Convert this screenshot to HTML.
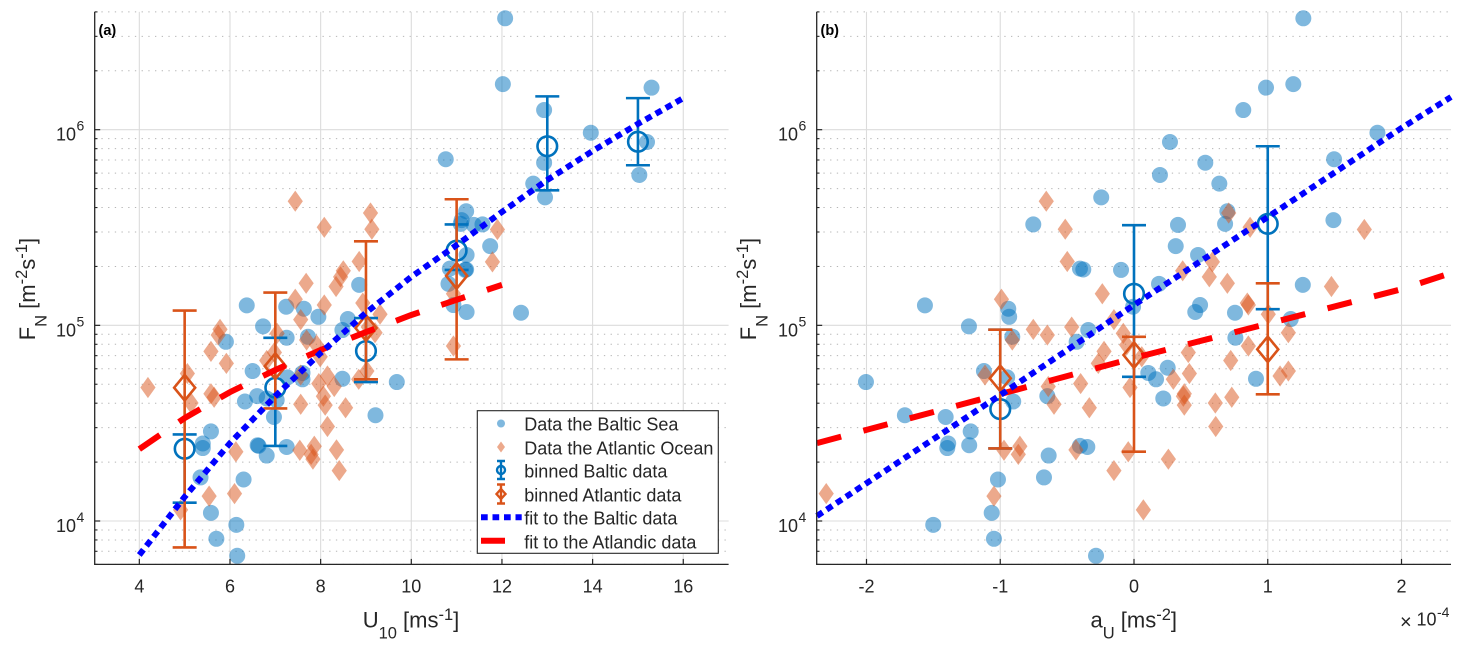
<!DOCTYPE html>
<html lang="en">
<head>
<meta charset="utf-8">
<title>Flux charts</title>
<style>
  html,body{margin:0;padding:0;background:#fff;width:1465px;height:653px;overflow:hidden}
  svg{display:block;font-family:"Liberation Sans",Arial,sans-serif}
  text{fill:#262626}
</style>
</head>
<body>
<svg id="figure" xmlns="http://www.w3.org/2000/svg" width="1465" height="653" viewBox="0 0 1465 653">
  <g id="panel-a"></g>
  <g id="panel-b"></g>

  <text x="98.5" y="35" font-size="14.5" font-weight="bold" style="fill:#000">(a)</text>
  <text x="820.5" y="35" font-size="14.5" font-weight="bold" style="fill:#000">(b)</text>

  <text x="362.7" y="627.3" font-size="22">U<tspan font-size="16.5" dy="11">10</tspan><tspan dy="-11"> [ms</tspan><tspan font-size="16.5" dy="-7.5">-1</tspan><tspan dy="7.5">]</tspan></text>
  <text x="1090.5" y="627.3" font-size="22">a<tspan font-size="16.5" dy="11">U</tspan><tspan dy="-11"> [ms</tspan><tspan font-size="16.5" dy="-7.5">-2</tspan><tspan dy="7.5">]</tspan></text>
  <text transform="translate(35,340.3) rotate(-90)" font-size="22">F<tspan font-size="16.5" dy="11.5">N</tspan><tspan dy="-11.5"> [m</tspan><tspan font-size="16.5" dy="-8">-2</tspan><tspan dy="8">s</tspan><tspan font-size="16.5" dy="-8">-1</tspan><tspan dy="8">]</tspan></text>
  <text transform="translate(756,340.3) rotate(-90)" font-size="22">F<tspan font-size="16.5" dy="11.5">N</tspan><tspan dy="-11.5"> [m</tspan><tspan font-size="16.5" dy="-8">-2</tspan><tspan dy="8">s</tspan><tspan font-size="16.5" dy="-8">-1</tspan><tspan dy="8">]</tspan></text>

  <g>
    <text x="1400" y="628.5" font-size="20">×</text>
    <text x="1416.5" y="625.5" font-size="18">10</text>
    <text x="1437" y="617" font-size="14">-4</text>
  </g>

  <g>
    <rect x="477.3" y="410.7" width="241" height="142.6" fill="#fff" stroke="#262626" stroke-width="1.1"/>
    <g>
      <circle cx="501" cy="423.5" r="4" fill="#0072BD" fill-opacity="0.5"/>
      <text x="524.3" y="430.7" font-size="18">Data the Baltic Sea</text>
    </g>
    <g>
      <polygon points="497,447 501,441.5 505,447 501,452.5" fill="#D95319" fill-opacity="0.5"/>
      <text x="524.3" y="454.7" font-size="18">Data the Atlantic Ocean</text>
    </g>
    <g stroke="#0072BD" stroke-width="2.4" fill="none">
      <path d="M501 461V479M497 461H505M497 479H505"/>
      <circle cx="501" cy="470" r="4"/>
      <text x="524.3" y="477.7" font-size="18" stroke="none" style="fill:#262626">binned Baltic data</text>
    </g>
    <g stroke="#D95319" stroke-width="2.4" fill="none">
      <path d="M501 484.5V503.5M497 484.5H505M497 503.5H505"/>
      <polygon points="496.5,494 501,489 505.5,494 501,499"/>
      <text x="524.3" y="501.3" font-size="18" stroke="none" style="fill:#262626">binned Atlantic data</text>
    </g>
    <g>
      <line x1="481" y1="517.3" x2="521.7" y2="517.3" stroke="#0000FF" stroke-width="6" stroke-dasharray="6.7 4.8"/>
      <text x="524.3" y="524.7" font-size="18">fit to the Baltic data</text>
    </g>
    <g>
      <line x1="481" y1="540.7" x2="505" y2="540.7" stroke="#FF0000" stroke-width="6"/>
      <text x="524.3" y="548.7" font-size="18">fit to the Atlandic data</text>
    </g>
  </g>
</svg>

<script>
// ---- Individual samples (null = not identifiable in that panel) ----
const balticF = [3.71e6,1.71e6,1.64e6,1.26e6,9.65e5,8.65e5,7.06e5,6.78e5,5.87e5,5.30e5,4.51e5,3.83e5,3.45e5,3.30e5,3.26e5,3.28e5,2.54e5,2.29e5,1.95e5,1.93e5,1.92e5,1.63e5,1.61e5,1.27e5,1.265e5,1.245e5,1.216e5,1.17e5,1.16e5,1.106e5,1.077e5,9.88e4,9.46e4,8.64e4,8.74e4,8.24e4,5.84e4,5.71e4,5.30e4,5.42e4,5.33e4,5.13e4,6.07e4,4.08e4,4.35e4,4.23e4,4.15e4,3.40e4,3.47e4,2.87e4,2.49e4,2.36e4,2.44e4,2.42e4,2.39e4,2.16e4,1.63e4,1.67e4,1.10e4,9.56e3,8.11e3,6.64e3];
const balticU = [12.07,12.02,15.30,12.93,13.96,15.20,10.76,12.93,15.03,12.69,12.95,11.21,11.11,11.09,11.38,11.57,11.74,11.22,10.85,11.21,11.19,10.82,8.85,10.93,6.37,7.24,7.63,11.22,12.42,7.95,8.60,6.73,8.48,7.25,7.72,5.91,6.50,7.60,7.60,7.27,8.48,9.68,null,6.33,6.60,6.81,7.03,6.97,9.21,5.58,5.40,5.40,6.61,6.63,7.25,6.81,6.30,5.35,5.58,6.14,5.70,6.16];
const balticA = [1.266,1.191,0.987,0.817,1.82,0.269,1.496,0.533,0.194,0.638,-0.245,0.698,1.491,0.681,0.329,-0.753,0.312,0.479,-0.404,-0.379,-0.097,0.187,1.262,0.494,-1.563,-0.007,-0.94,0.458,0.755,-0.933,1.172,-1.234,-0.342,0.758,-0.91,-0.429,-1.122,0.107,0.165,-0.948,0.912,-2.004,0.252,-0.903,-0.648,0.219,null,-1.408,-1.713,-1.221,-1.389,-1.396,-1.232,-0.404,-0.349,-0.638,-1.017,-0.673,-1.064,-1.501,-1.047,-0.284];

const atlanticF = [4.31e5,3.75e5,3.17e5,3.10e5,3.09e5,2.12e5,2.11e5,1.90e5,1.77e5,1.64e5,1.58e5,1.45e5,1.36e5,1.27e5,1.30e5,1.14e5,1.07e5,9.54e4,8.92e4,9.10e4,8.41e4,7.93e4,7.84e4,9.17e4,7.36e4,7.26e4,6.61e4,6.39e4,6.91e4,5.84e4,5.67e4,5.57e4,5.51e4,5.30e4,4.81e4,5.04e4,4.87e4,4.47e4,4.29e4,4.34e4,4.01e4,3.91e4,3.95e4,3.79e4,3.04e4,2.26e4,2.30e4,2.41e4,2.19e4,2.07e4,2.31e4,1.81e4,1.34e4,1.38e4,1.14e4,9.80e4];
const atlanticU = [7.44,9.10,8.08,9.13,11.90,8.85,11.79,8.50,8.44,7.68,8.34,10.93,7.44,8.08,8.93,9.31,7.56,5.78,5.74,7.04,7.69,7.91,10.93,9.20,5.58,6.98,6.81,5.92,7.99,9.02,5.06,7.56,8.15,8.84,4.19,7.96,8.30,5.58,5.65,8.06,5.14,8.10,7.56,8.55,8.15,6.13,7.54,7.86,7.79,7.83,8.35,8.41,5.54,6.10,4.91,9.05];
const atlanticA = [-0.656,0.708,0.868,-0.514,1.722,-0.499,0.586,0.364,0.563,0.698,1.476,-0.237,-0.991,0.855,0.847,1.004,-0.15,-0.753,-0.648,-0.08,-0.91,-0.055,0.855,1.154,-0.224,0.406,0.723,-0.267,0.058,1.154,0.414,-1.114,1.092,0.294,-0.03,-0.399,-0.641,0.376,0.731,0.369,0.608,0.376,-0.598,-0.334,0.611,-0.043,-0.972,-0.853,-0.865,0.257,-0.434,-0.15,-1.047,-2.301,0.07,-0.466];

// ---- Binned statistics ----
const binsU = [5,7,9,11,13,15];
const binBalticUMean = [2.34e4,4.80e4,7.39e4,2.41e5,8.23e5,8.68e5];
const binBalticUHigh = [2.77e4,8.64e4,1.09e5,3.28e5,1.48e6,1.45e6];
const binBalticULow  = [1.24e4,2.42e4,5.13e4,1.92e5,4.90e5,6.58e5];
const binsUAtlantic = [5,7,9,11];
const binAtlanticUMean = [4.80e4,6.19e4,9.69e4,1.79e5];
const binAtlanticUHigh = [1.19e5,1.47e5,2.69e5,4.41e5];
const binAtlanticULow  = [7.33e3,3.76e4,5.30e4,6.70e4];

const binsA = [-1,0,1];
const binBalticAMean = [3.73e4,1.45e5,3.30e5];
const binBalticAHigh = [9.50e4,3.25e5,8.23e5];
const binBalticALow  = [2.35e4,5.46e4,1.21e5];
const binAtlanticAMean = [5.36e4,7.05e4,7.54e4];
const binAtlanticAHigh = [9.50e4,8.74e4,1.64e5];
const binAtlanticALow  = [2.35e4,2.26e4,4.44e4];

// ---- Fitted curves ----
const fitBalticUX = [4,5,6,7,8,9,10,11,12,13,14,15,16];
const fitBalticUY = [6.70e3,1.33e4,2.50e4,4.35e4,7.22e4,1.16e5,1.77e5,2.57e5,3.80e5,5.53e5,7.78e5,1.07e6,1.45e6];
const fitAtlanticUX = [4,5,6,7,8,9,10,11,12];
const fitAtlanticUY = [2.33e4,3.36e4,4.56e4,5.91e4,7.48e4,9.24e4,1.13e5,1.35e5,1.61e5];
const fitAX = [-2.37,-2,-1,0,1,2,2.37];
const fitBalticAY = [1.06e4,1.56e4,4.40e4,1.27e5,3.58e5,1.02e6,1.47e6];
const fitAtlanticAY = [2.50e4,2.92e4,4.45e4,6.81e4,1.02e5,1.53e5,1.85e5];

// ---- Ticks ----
const xTickLabelsA = ['4','6','8','10','12','14','16'];
const xTickLabelsB = ['-2','-1','0','1','2'];
const yDecades = [4,5,6];
const yMinorFactors = [2,3,4,5,6,7,8,9];

// ---- Axis geometry ----
const plotTop = 11.9, plotBottom = 564.4;
const yMinValue = 6e3, yMaxValue = 4e6;
function yScale(f){
  const lo = Math.log10(yMinValue), hi = Math.log10(yMaxValue);
  return plotBottom - (Math.log10(f) - lo) / (hi - lo) * (plotBottom - plotTop);
}
function xScaleA(u){ return 94 + (u - 3) / 14 * (728.6 - 94); }
function xScaleB(a){ return 817 + (a + 2.37) / 4.74 * (1451 - 817); }

const NS = 'http://www.w3.org/2000/svg';
function mk(parent, tag, attrs){
  const el = document.createElementNS(NS, tag);
  for (const k in attrs) el.setAttribute(k, attrs[k]);
  parent.appendChild(el);
  return el;
}

function drawGrid(g, left, right, xFn, xLabels){
  const minorGroup = mk(g, 'g', {});
  
  
  const majorGroup = mk(g, 'g', {});
  
  
  for (let d = 3; d <= 6; d++){
    for (const m of yMinorFactors){
      const v = m * Math.pow(10, d);
      if (v < yMinValue || v > yMaxValue) continue;
      const y = yScale(v);
      const ln = mk(minorGroup, 'line', {x1:left, x2:right, y1:y, y2:y, stroke:'#b5b5b5', 'stroke-width':1, 'stroke-dasharray':'1.3 5.4'});
      
      
      const tk = mk(g, 'line', {x1:left, x2:left + 2.8, y1:y, y2:y, stroke:'#262626', 'stroke-width':1.1});
      
      
    }
  }
  for (const d of yDecades){
    const y = yScale(Math.pow(10, d));
    const ln = mk(majorGroup, 'line', {x1:left, x2:right, y1:y, y2:y, stroke:'#dcdcdc', 'stroke-width':1.1});
    
    
  }
  for (const lab of xLabels){
    const x = xFn(parseFloat(lab));
    const ln = mk(majorGroup, 'line', {x1:x, x2:x, y1:plotTop, y2:plotBottom, stroke:'#dcdcdc', 'stroke-width':1.1});
    
    
  }
}

function drawAxes(g, left, right, xFn, xLabels){
  const ax = mk(g, 'path', {d:'M'+left+' '+plotTop+'V'+plotBottom+'H'+right, fill:'none', stroke:'#262626', 'stroke-width':1.3});
  
  
  for (const lab of xLabels){
    const x = xFn(parseFloat(lab));
    const tk = mk(g, 'line', {x1:x, x2:x, y1:plotBottom, y2:plotBottom - 5.5, stroke:'#262626', 'stroke-width':1.2});
    
    
    const t = mk(g, 'text', {x:x, y:592.5, 'font-size':18, 'text-anchor':'middle'});
    t.textContent = lab;
    
    
  }
  for (const d of yDecades){
    const y = yScale(Math.pow(10, d));
    const tk = mk(g, 'line', {x1:left, x2:left + 5.5, y1:y, y2:y, stroke:'#262626', 'stroke-width':1.2});
    
    
    const base = mk(g, 'text', {x:left - 18.7, y:y + 11, 'font-size':18, 'text-anchor':'end'});
    base.textContent = '10';
    
    
    const ex = mk(g, 'text', {x:left - 18.2, y:y + 1, 'font-size':14});
    ex.textContent = String(d);
    
    
  }
}

function drawBalticPoints(g, xs, fs, xFn){
  fs.forEach(function(f, i){
    if (xs[i] === null) return;
    const c = mk(g, 'circle', {cx:xFn(xs[i]), cy:yScale(f), r:8, fill:'#0072BD', 'fill-opacity':0.5});
    
    
  });
}

function diamondPoints(x, y, hw, hh){
  return (x - hw) + ',' + y + ' ' + x + ',' + (y - hh) + ' ' + (x + hw) + ',' + y + ' ' + x + ',' + (y + hh);
}

function drawAtlanticPoints(g, xs, fs, xFn){
  fs.forEach(function(f, i){
    if (xs[i] === null) return;
    const p = mk(g, 'polygon', {points:diamondPoints(xFn(xs[i]), yScale(f), 7.6, 10.6), fill:'#D95319', 'fill-opacity':0.5});
    
    
  });
}

function drawBins(g, xs, mean, high, low, xFn, color, isDiamond){
  xs.forEach(function(v, i){
    const x = xFn(v), yT = yScale(high[i]), yB = yScale(low[i]), yM = yScale(mean[i]);
    const bar = mk(g, 'path', {d:'M'+x+' '+yT+'V'+yB+'M'+(x-12)+' '+yT+'H'+(x+12)+'M'+(x-12)+' '+yB+'H'+(x+12), fill:'none', stroke:color, 'stroke-width':2.6});
    
    
    if (isDiamond){
      const d = mk(g, 'polygon', {points:diamondPoints(x, yM, 10.5, 12.8), fill:'none', stroke:color, 'stroke-width':2.6});
      
      
    } else {
      const c = mk(g, 'circle', {cx:x, cy:yM, r:9.8, fill:'none', stroke:color, 'stroke-width':2.6});
      
      
    }
  });
}

function fitPath(xs, ys, xFn){
  return xs.map(function(v, i){ return xFn(v).toFixed(1) + ',' + yScale(ys[i]).toFixed(1); }).join(' ');
}

function drawFits(g, xsB, ysB, xsR, ysR, xFn){
  const red = mk(g, 'polyline', {points:fitPath(xsR, ysR, xFn), fill:'none', stroke:'#FF0000', 'stroke-width':6, 'stroke-dasharray':'25 23'});
  
  
  const blue = mk(g, 'polyline', {points:fitPath(xsB, ysB, xFn), fill:'none', stroke:'#0000FF', 'stroke-width':6, 'stroke-dasharray':'6.7 4.9'});
  
  
}

// Panel (a)
const ga = document.getElementById('panel-a');
drawGrid(ga, 94.7, 728.6, xScaleA, xTickLabelsA);
drawBalticPoints(ga, balticU, balticF, xScaleA);
drawAtlanticPoints(ga, atlanticU, atlanticF, xScaleA);
drawBins(ga, binsU, binBalticUMean, binBalticUHigh, binBalticULow, xScaleA, '#0072BD', false);
drawBins(ga, binsUAtlantic, binAtlanticUMean, binAtlanticUHigh, binAtlanticULow, xScaleA, '#D95319', true);
drawFits(ga, fitBalticUX, fitBalticUY, fitAtlanticUX, fitAtlanticUY, xScaleA);
drawAxes(ga, 94.7, 728.6, xScaleA, xTickLabelsA);

// Panel (b)
const gb = document.getElementById('panel-b');
drawGrid(gb, 816.7, 1451, xScaleB, xTickLabelsB);
drawBalticPoints(gb, balticA, balticF, xScaleB);
drawAtlanticPoints(gb, atlanticA, atlanticF, xScaleB);
drawBins(gb, binsA, binBalticAMean, binBalticAHigh, binBalticALow, xScaleB, '#0072BD', false);
drawBins(gb, binsA, binAtlanticAMean, binAtlanticAHigh, binAtlanticALow, xScaleB, '#D95319', true);
drawFits(gb, fitAX, fitBalticAY, fitAX, fitAtlanticAY, xScaleB);
drawAxes(gb, 816.7, 1451, xScaleB, xTickLabelsB);
</script>
</body>
</html>
